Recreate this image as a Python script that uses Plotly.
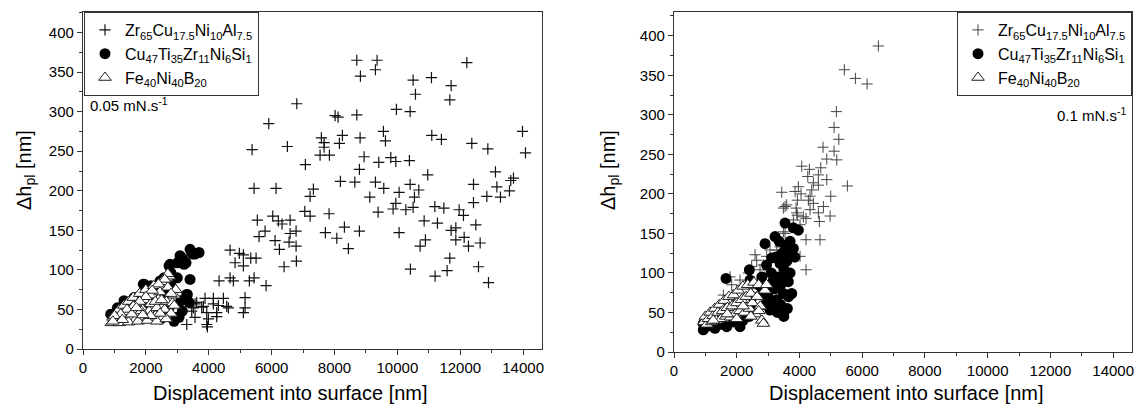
import plotly.graph_objects as go

# ---------------- data: left panel (0.05 mN/s) ----------------
zr_left_x = [8709, 9355, 8824, 9302, 12209, 10501, 11084, 11710, 10575, 11668, 9970, 10405, 8019, 8114, 8709,
             13979, 14075, 7583, 7669, 8156, 8251, 8814, 9556, 9620, 11094, 11401, 12367, 12877, 7669, 7541,
             7838, 7074, 8941, 9408, 9790, 9950, 10383, 8792, 10965, 13120, 13693, 13607, 8188, 8646, 9302,
             10405, 12421, 13164, 9567, 10681, 7329, 7223, 10055, 13565, 12845, 13279, 9122, 10543, 12421, 9950,
             9864, 10269, 10501, 11191, 11478, 11964, 12102, 7054, 7223, 7828, 9387, 10851, 11274, 11710, 11859,
             12495, 7710, 8073, 8315, 8792, 10055, 11859, 12124, 12261, 12633, 10892, 10723, 8442, 11668, 10415,
             11200, 11582, 12580, 12898,
             6800, 5909, 6501, 5378, 5441, 6141, 5546, 6036, 6215, 6332, 6587, 5791, 5600, 6587, 6778,
             6109, 6247, 6555, 6778, 6787, 6396, 4678, 4973, 5101, 5336, 5505, 4837, 5101, 4328, 4678,
             4783, 5292, 5441, 5823, 5155, 5155, 3882, 4147, 4465, 3564, 3777, 4306, 4624, 3510,
             3617, 3829, 4146, 4571, 5101, 3458, 3935, 4253, 3564, 3988, 3935, 3957, 4253, 3300]
zr_left_y = [365, 365, 345, 353, 362, 340, 343, 333, 322, 315, 303, 300, 295, 293, 296,
             275, 248, 267, 261, 260, 270, 267, 275, 263, 270, 265, 260, 253, 255, 245,
             245, 233, 243, 236, 242, 237, 238, 227, 220, 224, 216, 213, 212, 211, 211,
             208, 208, 205, 203, 201, 202, 193, 198, 200, 193, 192, 192, 192, 185, 184,
             177, 176, 179, 180, 178, 176, 169, 174, 168, 171, 173, 162, 159, 150, 153,
             157, 147, 140, 154, 149, 147, 138, 141, 130, 134, 138, 130, 127, 115, 101,
             92, 99, 104, 84,
             310, 285, 256, 252, 203, 203, 163, 168, 162, 158, 163, 149, 142, 146, 149,
             137, 126, 135, 130, 111, 104, 125, 121, 119, 115, 115, 109, 105, 86, 90,
             86, 86, 90, 80, 65, 52, 64, 64, 64, 57, 53, 55, 52, 52,
             59, 54, 57, 54, 46, 48, 46, 46, 40, 38, 31, 28, 41, 31]

cu_left_x = [881, 1018, 1092, 1231, 1305, 1623, 1623, 1887, 1919, 1941, 2154, 2259, 2450, 2472, 2577,
             2737, 2737, 2768, 2791, 2896, 2982, 3001, 3055, 3087, 3108, 3160, 3160, 3214, 3277, 3300,
             3319, 3373, 3405, 3405, 3478, 3564, 3691, 2300, 2600, 2000, 1500, 1200, 2800, 3000, 2500]
cu_left_y = [44, 44, 52, 50, 61, 65, 42, 48, 82, 82, 80, 73, 86, 38, 90,
             105, 52, 107, 97, 35, 40, 109, 40, 118, 61, 115, 48, 107, 109, 69,
             69, 59, 126, 88, 120, 120, 122, 60, 70, 55, 50, 40, 80, 90, 45]

fe_left_x = [900, 950, 1000, 1050, 1100, 1150, 1200, 1250, 1300, 1350, 1400, 1450, 1500, 1550, 1600,
             1650, 1700, 1750, 1800, 1850, 1900, 1950, 2000, 2050, 2100, 2150, 2200, 2250, 2300, 2350,
             2400, 2450, 2500, 2550, 2600, 2650, 2700, 2750, 2800, 2850, 2900, 2950, 2700, 2600, 2400,
             2200, 2000, 1800, 1600, 1400, 1200, 1000, 1150, 1450, 1750, 2050, 2350, 2650, 2450, 2150,
             1850, 1550, 1250, 950, 2300, 2500, 2800, 2900, 1900, 1700]
fe_left_y = [33, 40, 36, 45, 38, 50, 35, 42, 55, 38, 47, 60, 40, 52, 65,
             36, 45, 58, 70, 40, 50, 62, 75, 38, 48, 57, 68, 80, 42, 52,
             63, 72, 85, 40, 50, 60, 78, 92, 45, 58, 68, 75, 95, 88, 82,
             74, 66, 60, 54, 50, 44, 42, 33, 34, 35, 36, 35, 38, 45, 42,
             48, 44, 37, 35, 60, 62, 70, 55, 43, 52]

# ---------------- data: right panel (0.1 mN/s) ----------------
zr_right_x = [6515, 5431, 5782, 6155, 5176, 5103, 5253, 4751, 5103, 4870, 5189, 4072, 4315, 4678, 4264,
              4602, 4870, 4443, 4602, 5527, 3964, 3435, 3859, 4391, 4050, 4337, 4997, 3932, 4284, 4443,
              3594, 3486, 3891, 4762, 4337, 3932, 4602, 4976, 4124, 4209, 3805, 4634, 3677, 4018, 3486,
              4209, 4656, 3540, 4018, 4209, 3380, 3061, 2955, 2848, 3540, 3912, 3274, 2583, 2636, 2742,
              2477, 2370, 1786, 1839, 2000, 1572, 2105, 2796, 1700, 2200, 2500, 2900, 1400, 1200, 2300, 2000]
zr_right_y = [387, 357, 346, 339, 304, 284, 269, 259, 254, 244, 243, 235, 231, 233, 222,
              224, 218, 214, 211, 210, 209, 202, 203, 205, 200, 197, 197, 192, 192, 188,
              186, 182, 182, 184, 180, 173, 176, 172, 171, 169, 167, 165, 159, 161, 152,
              142, 142, 150, 121, 104, 133, 129, 121, 110, 184, 176, 129, 123, 116, 104,
              108, 100, 95, 85, 78, 72, 91, 91, 60, 70, 80, 95, 55, 45, 58, 65]

cu_right_x = [3540, 3805, 3964, 3221, 2902, 3805, 3699, 3115, 3380, 2402, 1658, 2424, 3167, 3645, 3061,
              3486, 3274, 3613, 3061, 1361, 934, 934, 1307, 1680, 2105, 3594, 3752, 3752, 3700, 3500,
              3300, 3200, 3400, 3600, 3450, 3350, 3100, 2950, 2800, 2700, 3000, 2900, 3150, 3400, 2600,
              2400, 2200, 1900, 1500, 1100, 3700, 3850, 3550, 3250, 3450, 3650, 3500, 3300, 2800, 2500]
cu_right_y = [163, 157, 154, 146, 137, 131, 123, 119, 112, 104, 93, 91, 91, 89, 83,
              74, 66, 55, 53, 49, 36, 28, 30, 32, 32, 91, 74, 131, 100, 105,
              95, 80, 85, 115, 125, 140, 100, 110, 95, 85, 70, 60, 60, 60, 55,
              45, 40, 38, 35, 33, 140, 120, 135, 120, 95, 70, 45, 50, 75, 70]

fe_right_x = [950, 1000, 1050, 1100, 1150, 1200, 1250, 1300, 1350, 1400, 1450, 1500, 1550, 1600, 1650,
              1700, 1750, 1800, 1850, 1900, 1950, 2000, 2050, 2100, 2150, 2200, 2250, 2300, 2350, 2400,
              2450, 2500, 2550, 2600, 2650, 2700, 2750, 2800, 2850, 2900, 2950, 2700, 2200, 1700, 1250,
              2450, 2000]
fe_right_y = [38, 45, 35, 42, 50, 38, 46, 55, 40, 50, 60, 42, 52, 65, 45,
              56, 70, 44, 58, 72, 48, 62, 78, 52, 66, 83, 50, 70, 85, 55,
              74, 62, 88, 48, 70, 85, 58, 40, 36, 78, 85, 52, 58, 48, 40,
              45, 42]

names = ["Zr<sub>65</sub>Cu<sub>17.5</sub>Ni<sub>10</sub>Al<sub>7.5</sub>",
         "Cu<sub>47</sub>Ti<sub>35</sub>Zr<sub>11</sub>Ni<sub>6</sub>Si<sub>1</sub>",
         "Fe<sub>40</sub>Ni<sub>40</sub>B<sub>20</sub>"]

W, H = 1144, 411
def px(v): return v / W
def py(v): return 1 - v / H

FONT = "Arial, Liberation Sans, sans-serif"
fig = go.Figure()

plus_l = dict(symbol="cross-thin", size=8, line=dict(width=1.2, color="#111"))
plus_r = dict(symbol="cross-thin", size=8, line=dict(width=1, color="#444"))
circ = dict(symbol="circle", size=11, color="black", line=dict(width=0))
tri = dict(symbol="triangle-up", size=11, color="white", line=dict(width=1, color="#222"))

fig.add_trace(go.Scatter(x=zr_left_x, y=zr_left_y, mode="markers", marker=plus_l, name=names[0],
                         xaxis="x", yaxis="y", legend="legend"))
fig.add_trace(go.Scatter(x=cu_left_x, y=cu_left_y, mode="markers", marker=circ, name=names[1],
                         xaxis="x", yaxis="y", legend="legend"))
fig.add_trace(go.Scatter(x=fe_left_x, y=fe_left_y, mode="markers", marker=tri, name=names[2],
                         xaxis="x", yaxis="y", legend="legend"))
fig.add_trace(go.Scatter(x=zr_right_x, y=zr_right_y, mode="markers", marker=plus_r, name=names[0],
                         xaxis="x2", yaxis="y2", legend="legend2"))
fig.add_trace(go.Scatter(x=cu_right_x, y=cu_right_y, mode="markers", marker=circ, name=names[1],
                         xaxis="x2", yaxis="y2", legend="legend2"))
fig.add_trace(go.Scatter(x=fe_right_x, y=fe_right_y, mode="markers", marker=tri, name=names[2],
                         xaxis="x2", yaxis="y2", legend="legend2"))

def xax(domain, anchor):
    return dict(domain=domain, anchor=anchor, range=[0, 14600], dtick=2000, tick0=0, tickformat="d",
                ticks="outside", ticklen=5, tickwidth=1, tickcolor="#333",
                minor=dict(ticks="outside", dtick=1000, ticklen=3, tickcolor="#333"),
                showline=True, linecolor="#333", linewidth=1.3, mirror=True,
                showgrid=False, zeroline=False, automargin=False,
                tickfont=dict(family=FONT, size=15, color="black"))

def yax(domain, anchor, top):
    return dict(domain=domain, anchor=anchor, range=[0, top], dtick=50, tick0=0, tickformat="d",
                ticks="outside", ticklen=5, tickwidth=1, tickcolor="#333",
                minor=dict(ticks="outside", dtick=25, ticklen=3, tickcolor="#333"),
                showline=True, linecolor="#333", linewidth=1.3, mirror=True,
                showgrid=False, zeroline=False, automargin=False,
                tickfont=dict(family=FONT, size=15, color="black"))

legend_common = dict(bgcolor="white", bordercolor="#333", borderwidth=1,
                     font=dict(family=FONT, size=16, color="black"),
                     tracegroupgap=0, yanchor="top")

fig.update_layout(
    width=W, height=H, margin=dict(l=0, r=0, t=0, b=0),
    paper_bgcolor="white", plot_bgcolor="white",
    xaxis=xax([px(83), px(542)], "y"),
    yaxis=yax([py(349), py(12)], "x", 426),
    xaxis2=xax([px(674), px(1132)], "y2"),
    yaxis2=yax([py(352), py(12)], "x2", 430),
    legend=dict(x=px(84), y=py(12), xanchor="left", **legend_common),
    legend2=dict(x=px(1132), y=py(12), xanchor="right", **legend_common),
    showlegend=True,
)

ann_font = dict(family=FONT, size=20, color="black")
fig.add_annotation(x=px(290), y=py(393), xref="paper", yref="paper", text="Displacement into surface [nm]",
                   showarrow=False, font=ann_font, xanchor="center", yanchor="middle")
fig.add_annotation(x=px(906), y=py(393), xref="paper", yref="paper", text="Displacement into surface [nm]",
                   showarrow=False, font=ann_font, xanchor="center", yanchor="middle")
fig.add_annotation(x=px(26), y=py(170), xref="paper", yref="paper", text="Δh<sub>pl</sub> [nm]",
                   showarrow=False, font=ann_font, textangle=-90, xanchor="center", yanchor="middle")
fig.add_annotation(x=px(610), y=py(170), xref="paper", yref="paper", text="Δh<sub>pl</sub> [nm]",
                   showarrow=False, font=ann_font, textangle=-90, xanchor="center", yanchor="middle")
fig.add_annotation(x=px(88), y=py(104), xref="paper", yref="paper", text="0.05 mN.s<sup>-1</sup>",
                   showarrow=False, font=dict(family=FONT, size=15, color="black"),
                   xanchor="left", yanchor="middle")
fig.add_annotation(x=px(1129), y=py(114), xref="paper", yref="paper", text="0.1 mN.s<sup>-1</sup>",
                   showarrow=False, font=dict(family=FONT, size=15, color="black"),
                   xanchor="right", yanchor="middle")

fig.write_html("out.html", config={"displayModeBar": False},
               post_script="document.body.style.margin='0';document.body.style.padding='0';")
